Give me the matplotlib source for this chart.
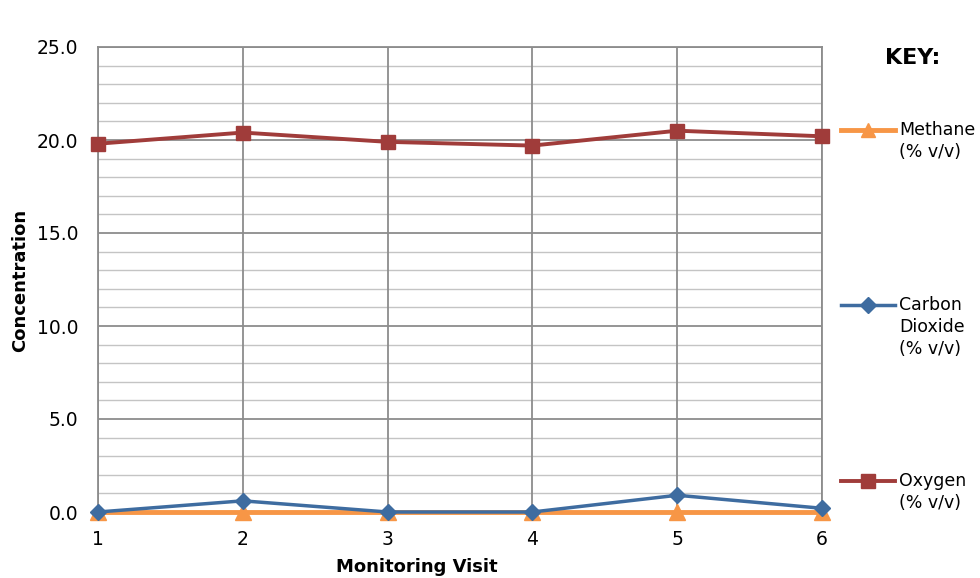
import matplotlib.pyplot as plt
from matplotlib.lines import Line2D
import numpy as np

visits = [1, 2, 3, 4, 5, 6]
methane = [0.0, 0.0, 0.0, 0.0, 0.0, 0.0]
carbon_dioxide = [0.0, 0.6, 0.0, 0.0, 0.9, 0.2]
oxygen = [19.8, 20.4, 19.9, 19.7, 20.5, 20.2]

c_methane = "#F79646"
c_co2 = "#3E6CA0"
c_o2 = "#A03C3A"

plt.rcParams["font.family"] = ["DejaVu Sans"]

fig = plt.figure(figsize=(9.8, 5.78), dpi=100)
ax = fig.add_axes([98 / 980, 1 - 512 / 578, (822 - 98) / 980, (512 - 47) / 578])

ax.set_xlim(1, 6)
ax.set_ylim(0, 25)

# grid: minor every 1, major every 5
for y in np.arange(1, 25, 1):
    if y % 5 == 0:
        continue
    ax.axhline(y, color="#C4C4C4", lw=1.0, zorder=0)
for y in np.arange(5, 26, 5):
    ax.axhline(y, color="#8C8C8C", lw=1.3, zorder=0)
for x in visits:
    ax.axvline(x, color="#8C8C8C", lw=1.3, zorder=0)

for s in ax.spines.values():
    s.set_color("#8C8C8C")
    s.set_linewidth(1.3)

ax.plot(visits, methane, color=c_methane, lw=3.5, marker="^", ms=11,
        clip_on=False, zorder=3)
ax.plot(visits, carbon_dioxide, color=c_co2, lw=2.5, marker="D", ms=8,
        clip_on=False, zorder=4)
ax.plot(visits, oxygen, color=c_o2, lw=2.8, marker="s", ms=10,
        clip_on=False, zorder=4)

ax.set_yticks(np.arange(0, 26, 5))
ax.set_yticklabels([f"{v:.1f}" for v in np.arange(0, 26, 5)])
ax.set_xticks(visits)
ax.tick_params(axis="both", length=0, labelsize=13.5, colors="black")
ax.tick_params(axis="y", pad=14)
ax.tick_params(axis="x", pad=13)

fig.text(20 / 980, 1 - 280 / 578, "Concentration", rotation=90, fontsize=13,
         fontweight="bold", ha="center", va="center")
fig.text(417 / 980, 1 - 567 / 578, "Monitoring Visit", fontsize=13,
         fontweight="bold", ha="center", va="center")

# key
fig.text(913 / 980, 1 - 58 / 578, "KEY:", fontsize=16, fontweight="bold",
         ha="center", va="center")

key = [
    ("Methane\n(% v/v)", c_methane, "^", 130, 3.5, 10),
    ("Carbon\nDioxide\n(% v/v)", c_co2, "D", 305, 2.5, 8),
    ("Oxygen\n(% v/v)", c_o2, "s", 481, 2.8, 10),
]
for label, col, mk, ypx, lw, ms in key:
    yf = 1 - ypx / 578
    fig.add_artist(Line2D([841 / 980, 895 / 980], [yf, yf], color=col, lw=lw,
                          transform=fig.transFigure))
    fig.add_artist(Line2D([868 / 980], [yf], color=col, marker=mk, ms=ms,
                          transform=fig.transFigure))
    fig.text(899 / 980, 1 - (ypx - 9) / 578, label, fontsize=12.5,
             ha="left", va="top", linespacing=1.3)

fig.savefig("out.png", dpi=100)
